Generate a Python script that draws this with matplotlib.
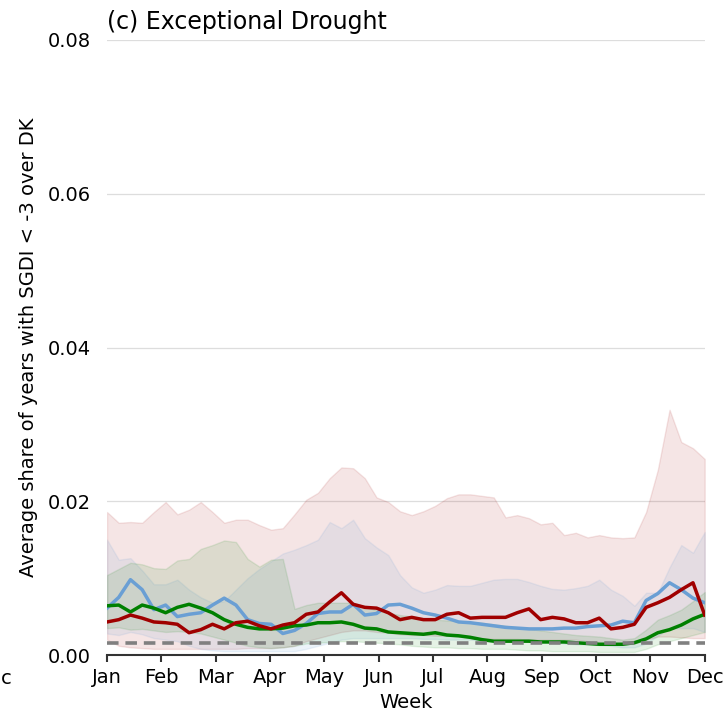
import numpy as np
import matplotlib.pyplot as plt

weeks = np.arange(1, 53)
months = ["Jan", "Feb", "Mar", "Apr", "May", "Jun",
          "Jul", "Aug", "Sep", "Oct", "Nov", "Dec"]

# weekly mean share of years with SGDI < -3
blue_mean = [0.0061, 0.0075, 0.0098, 0.0085, 0.0059, 0.0065, 0.0050, 0.0053, 0.0055, 0.0065,
             0.0074, 0.0065, 0.0046, 0.0041, 0.0040, 0.0028, 0.0032, 0.0041, 0.0054, 0.0056,
             0.0056, 0.0066, 0.0052, 0.0054, 0.0065, 0.0066, 0.0061, 0.0055, 0.0052, 0.0048,
             0.0043, 0.0042, 0.0040, 0.0038, 0.0036, 0.0035, 0.0034, 0.0034, 0.0034, 0.0035,
             0.0035, 0.0037, 0.0038, 0.0039, 0.0044, 0.0042, 0.0071, 0.0080, 0.0094, 0.0085,
             0.0074, 0.0068]
green_mean = [0.0064, 0.0065, 0.0056, 0.0065, 0.0061, 0.0055, 0.0062, 0.0066, 0.0061, 0.0055,
              0.0046, 0.0040, 0.0036, 0.0034, 0.0034, 0.0035, 0.0038, 0.0039, 0.0042, 0.0042,
              0.0043, 0.0040, 0.0035, 0.0034, 0.0030, 0.0029, 0.0028, 0.0027, 0.0029, 0.0026,
              0.0025, 0.0023, 0.0020, 0.0018, 0.0018, 0.0018, 0.0018, 0.0017, 0.0017, 0.0017,
              0.0016, 0.0015, 0.0014, 0.0014, 0.0014, 0.0016, 0.0021, 0.0029, 0.0033, 0.0039,
              0.0047, 0.0053]
red_mean = [0.0043, 0.0046, 0.0052, 0.0048, 0.0043, 0.0042, 0.0040, 0.0029, 0.0033, 0.0040,
            0.0034, 0.0042, 0.0044, 0.0038, 0.0034, 0.0039, 0.0042, 0.0053, 0.0056, 0.0069,
            0.0081, 0.0066, 0.0062, 0.0061, 0.0055, 0.0046, 0.0049, 0.0046, 0.0046, 0.0053,
            0.0055, 0.0048, 0.0049, 0.0049, 0.0049, 0.0055, 0.0060, 0.0046, 0.0049, 0.0047,
            0.0042, 0.0042, 0.0048, 0.0034, 0.0036, 0.0040, 0.0062, 0.0068, 0.0075, 0.0085,
            0.0094, 0.0052]

# spread (min / max) for each group
blue_lo = [0.0028, 0.0026, 0.0030, 0.0027, 0.0022, 0.0020, 0.0018, 0.0012, 0.0008, 0.0006,
           0.0005, 0.0005, 0.0005, 0.0005, 0.0005, 0.0005, 0.0005, 0.0008, 0.0012, 0.0016,
           0.0020, 0.0022, 0.0022, 0.0022, 0.0022, 0.0022, 0.0022, 0.0021, 0.0021, 0.0020,
           0.0020, 0.0020, 0.0019, 0.0019, 0.0018, 0.0018, 0.0018, 0.0017, 0.0016, 0.0015,
           0.0014, 0.0014, 0.0013, 0.0012, 0.0010, 0.0010, 0.0015, 0.0025, 0.0035, 0.0035,
           0.0035, 0.0030]
blue_hi = [0.0150, 0.0124, 0.0126, 0.0110, 0.0092, 0.0092, 0.0098, 0.0085, 0.0075, 0.0068,
           0.0070, 0.0085, 0.0100, 0.0112, 0.0122, 0.0132, 0.0137, 0.0143, 0.0150, 0.0173,
           0.0165, 0.0176, 0.0152, 0.0140, 0.0130, 0.0104, 0.0088, 0.0081, 0.0085, 0.0091,
           0.0090, 0.0090, 0.0094, 0.0098, 0.0099, 0.0099, 0.0095, 0.0090, 0.0086, 0.0085,
           0.0087, 0.0090, 0.0098, 0.0085, 0.0077, 0.0064, 0.0081, 0.0081, 0.0114, 0.0143,
           0.0133, 0.0160]
green_lo = [0.0035, 0.0036, 0.0033, 0.0034, 0.0032, 0.0030, 0.0031, 0.0030, 0.0028, 0.0024,
            0.0020, 0.0016, 0.0012, 0.0010, 0.0009, 0.0010, 0.0012, 0.0015, 0.0016, 0.0017,
            0.0018, 0.0018, 0.0017, 0.0016, 0.0015, 0.0014, 0.0012, 0.0011, 0.0010, 0.0010,
            0.0009, 0.0009, 0.0008, 0.0008, 0.0008, 0.0007, 0.0006, 0.0006, 0.0005, 0.0005,
            0.0005, 0.0005, 0.0004, 0.0004, 0.0004, 0.0004, 0.0008, 0.0014, 0.0018, 0.0022,
            0.0026, 0.0030]
green_hi = [0.0104, 0.0112, 0.0120, 0.0118, 0.0113, 0.0112, 0.0123, 0.0125, 0.0138, 0.0143,
            0.0149, 0.0147, 0.0125, 0.0115, 0.0124, 0.0125, 0.0060, 0.0065, 0.0068, 0.0068,
            0.0068, 0.0068, 0.0063, 0.0058, 0.0055, 0.0052, 0.0050, 0.0048, 0.0046, 0.0045,
            0.0044, 0.0043, 0.0042, 0.0040, 0.0038, 0.0036, 0.0034, 0.0032, 0.0030, 0.0028,
            0.0026, 0.0025, 0.0024, 0.0022, 0.0020, 0.0022, 0.0033, 0.0046, 0.0052, 0.0059,
            0.0070, 0.0082]
red_lo = [0.0020, 0.0012, 0.0010, 0.0009, 0.0008, 0.0008, 0.0008, 0.0008, 0.0008, 0.0008,
          0.0008, 0.0008, 0.0009, 0.0009, 0.0009, 0.0010, 0.0012, 0.0018, 0.0022, 0.0026,
          0.0030, 0.0032, 0.0032, 0.0030, 0.0029, 0.0027, 0.0026, 0.0026, 0.0025, 0.0025,
          0.0024, 0.0022, 0.0022, 0.0021, 0.0021, 0.0021, 0.0020, 0.0020, 0.0020, 0.0020,
          0.0020, 0.0018, 0.0017, 0.0016, 0.0015, 0.0015, 0.0020, 0.0024, 0.0024, 0.0023,
          0.0022, 0.0022]
red_hi = [0.0186, 0.0172, 0.0173, 0.0172, 0.0186, 0.0199, 0.0183, 0.0189, 0.0199, 0.0186,
          0.0172, 0.0176, 0.0176, 0.0169, 0.0163, 0.0165, 0.0183, 0.0202, 0.0211, 0.0230,
          0.0244, 0.0243, 0.0230, 0.0205, 0.0199, 0.0187, 0.0182, 0.0187, 0.0194, 0.0204,
          0.0209, 0.0209, 0.0207, 0.0205, 0.0179, 0.0182, 0.0178, 0.0170, 0.0172, 0.0156,
          0.0159, 0.0153, 0.0156, 0.0153, 0.0152, 0.0153, 0.0186, 0.0241, 0.0319, 0.0277,
          0.0269, 0.0255]

baseline = 0.0015

c_blue = "#6a9fd4"
c_green = "green"
c_red = "#a00000"

fig = plt.figure(figsize=(7.28, 7.14), dpi=100)
ax = fig.add_axes([0.147, 0.0826, 0.821, 0.8614])

ax.fill_between(weeks, red_lo, red_hi, color=c_red, alpha=0.1, lw=1)
ax.fill_between(weeks, blue_lo, blue_hi, color=c_blue, alpha=0.12, lw=1)
ax.fill_between(weeks, green_lo, green_hi, color=c_green, alpha=0.1, lw=1)

ax.plot(weeks, blue_mean, color=c_blue, lw=2.5)
ax.plot(weeks, green_mean, color=c_green, lw=2.5)
ax.plot(weeks, red_mean, color=c_red, lw=2.5)
ax.axhline(baseline, color="gray", ls="--", lw=2.6, dashes=(3.2, 1.9))

ax.set_xlim(1, 52)
ax.set_ylim(0, 0.08)
ax.set_xticks(np.linspace(1, 52, 12))
ax.set_xticklabels(months)
ax.set_yticks([0.0, 0.02, 0.04, 0.06, 0.08])
ax.set_yticklabels(["0.00", "0.02", "0.04", "0.06", "0.08"])
ax.yaxis.grid(True, color="#dddddd", lw=0.9)
ax.set_axisbelow(True)

for s in ["top", "right", "left"]:
    ax.spines[s].set_visible(False)
ax.spines["bottom"].set_linewidth(1.5)
ax.spines["bottom"].set_color("#333333")
ax.tick_params(axis="x", length=5, width=1.5, color="#333333", labelsize=14, pad=4)
ax.tick_params(axis="y", length=0, labelsize=14, pad=11.5)

ax.set_xlabel("Week", fontsize=14, labelpad=5)
ax.set_ylabel("Average share of years with SGDI < -3 over DK", fontsize=14, labelpad=7)
ax.set_title("(c) Exceptional Drought", loc="left", fontsize=17, pad=8)

# tail of the neighbouring panel's last month label
fig.text(1 / 728, 1 - 678 / 714, "c", fontsize=14, ha="left", va="center")

fig.savefig("out.png", dpi=100)
